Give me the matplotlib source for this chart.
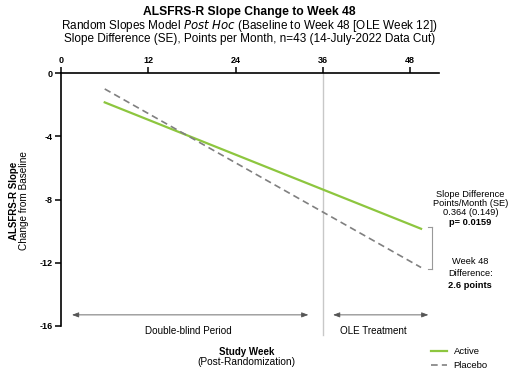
import matplotlib.pyplot as plt
import numpy as np

# data
weeks = [6, 49.5]
active = [-1.85, -9.85]
placebo = [-1.0, -12.3]
xticks = [0, 12, 24, 36, 48]
yticks = [0, -4, -8, -12, -16]

plt.rcParams['font.family'] = ['Liberation Sans', 'DejaVu Sans']

fig = plt.figure(figsize=(5.09, 3.79), dpi=100)
ax = fig.add_axes([0.12, 0.14, 0.743, 0.667])

ax.plot(weeks, active, color='#8dc63f', lw=1.6, label='Active')
ax.plot(weeks, placebo, color='#808080', lw=1.2, ls=(0, (4, 2.5)), label='Placebo')

ax.set_xlim(0, 52)
ax.set_ylim(-16, 0)
ax.spines['right'].set_visible(False)
ax.spines['bottom'].set_visible(False)
for s in ['left', 'top']:
    ax.spines[s].set_linewidth(1.2)
ax.xaxis.tick_top()
ax.set_xticks(xticks)
ax.set_yticks(yticks)
ax.set_xticklabels([str(t) for t in xticks], fontsize=6.5, fontweight='bold')
ax.set_yticklabels([str(t) for t in yticks], fontsize=6.5, fontweight='bold')
ax.tick_params(length=4, width=1.1, pad=2)

# OLE boundary
ax.plot([36, 36], [0, -16.6], color='#c8c8c8', lw=1, clip_on=False, zorder=0)

# period arrows
arrow = dict(arrowstyle='<|-|>,head_length=0.4,head_width=0.15', color='#555', lw=0.6,
             shrinkA=0, shrinkB=0)
ax.annotate('', xy=(1.5, -15.3), xytext=(34, -15.3), arrowprops=arrow, annotation_clip=False)
ax.annotate('', xy=(37.4, -15.3), xytext=(50.5, -15.3), arrowprops=arrow, annotation_clip=False)
ax.text(17.5, -16.3, 'Double-blind Period', fontsize=7.1, ha='center', va='center', clip_on=False)
ax.text(43, -16.3, 'OLE Treatment', fontsize=7.1, ha='center', va='center', clip_on=False)

# titles
fig.text(0.49, 0.968, 'ALSFRS-R Slope Change to Week 48', fontsize=8.7, fontweight='bold', ha='center', va='center')
fig.text(0.49, 0.932, 'Random Slopes Model $\\it{Post\\ Hoc}$ (Baseline to Week 48 [OLE Week 12])',
         fontsize=8.5, ha='center', va='center')
fig.text(0.49, 0.897, 'Slope Difference (SE), Points per Month, n=43 (14-July-2022 Data Cut)',
         fontsize=8.5, ha='center', va='center')

# axis labels
fig.text(0.028, 0.47, 'ALSFRS-R Slope', fontsize=7, fontweight='bold', rotation=90, ha='center', va='center')
fig.text(0.048, 0.47, 'Change from Baseline', fontsize=7.2, rotation=90, ha='center', va='center')
fig.text(0.485, 0.072, 'Study Week', fontsize=7, fontweight='bold', ha='center', va='center')
fig.text(0.485, 0.045, '(Post-Randomization)', fontsize=7.3, ha='center', va='center')

# right-side annotation
rx = 0.924
for y, s, w in [(0.486, 'Slope Difference', 'normal'), (0.462, 'Points/Month (SE)', 'normal'),
                (0.438, '0.364 (0.149)', 'normal'), (0.412, 'p= 0.0159', 'bold'),
                (0.310, 'Week 48', 'normal'), (0.279, 'Difference:', 'normal'),
                (0.248, '2.6 points', 'bold')]:
    fig.text(rx, y, s, fontsize=6.7, fontweight=w, ha='center', va='center')

# bracket
bx = 432 / 509
y1, y2 = 1 - 227 / 379, 1 - 269 / 379
fig.add_artist(plt.Line2D([bx, bx], [y1, y2], color='#999', lw=0.8))
fig.add_artist(plt.Line2D([bx - 0.008, bx], [y1, y1], color='#999', lw=0.8))
fig.add_artist(plt.Line2D([bx - 0.008, bx], [y2, y2], color='#999', lw=0.8))

fig.legend(loc='lower right', bbox_to_anchor=(0.975, 0.0), frameon=False, fontsize=6.8,
           handlelength=1.7, handletextpad=0.7, labelspacing=0.6)

plt.savefig('out.png', dpi=100)
